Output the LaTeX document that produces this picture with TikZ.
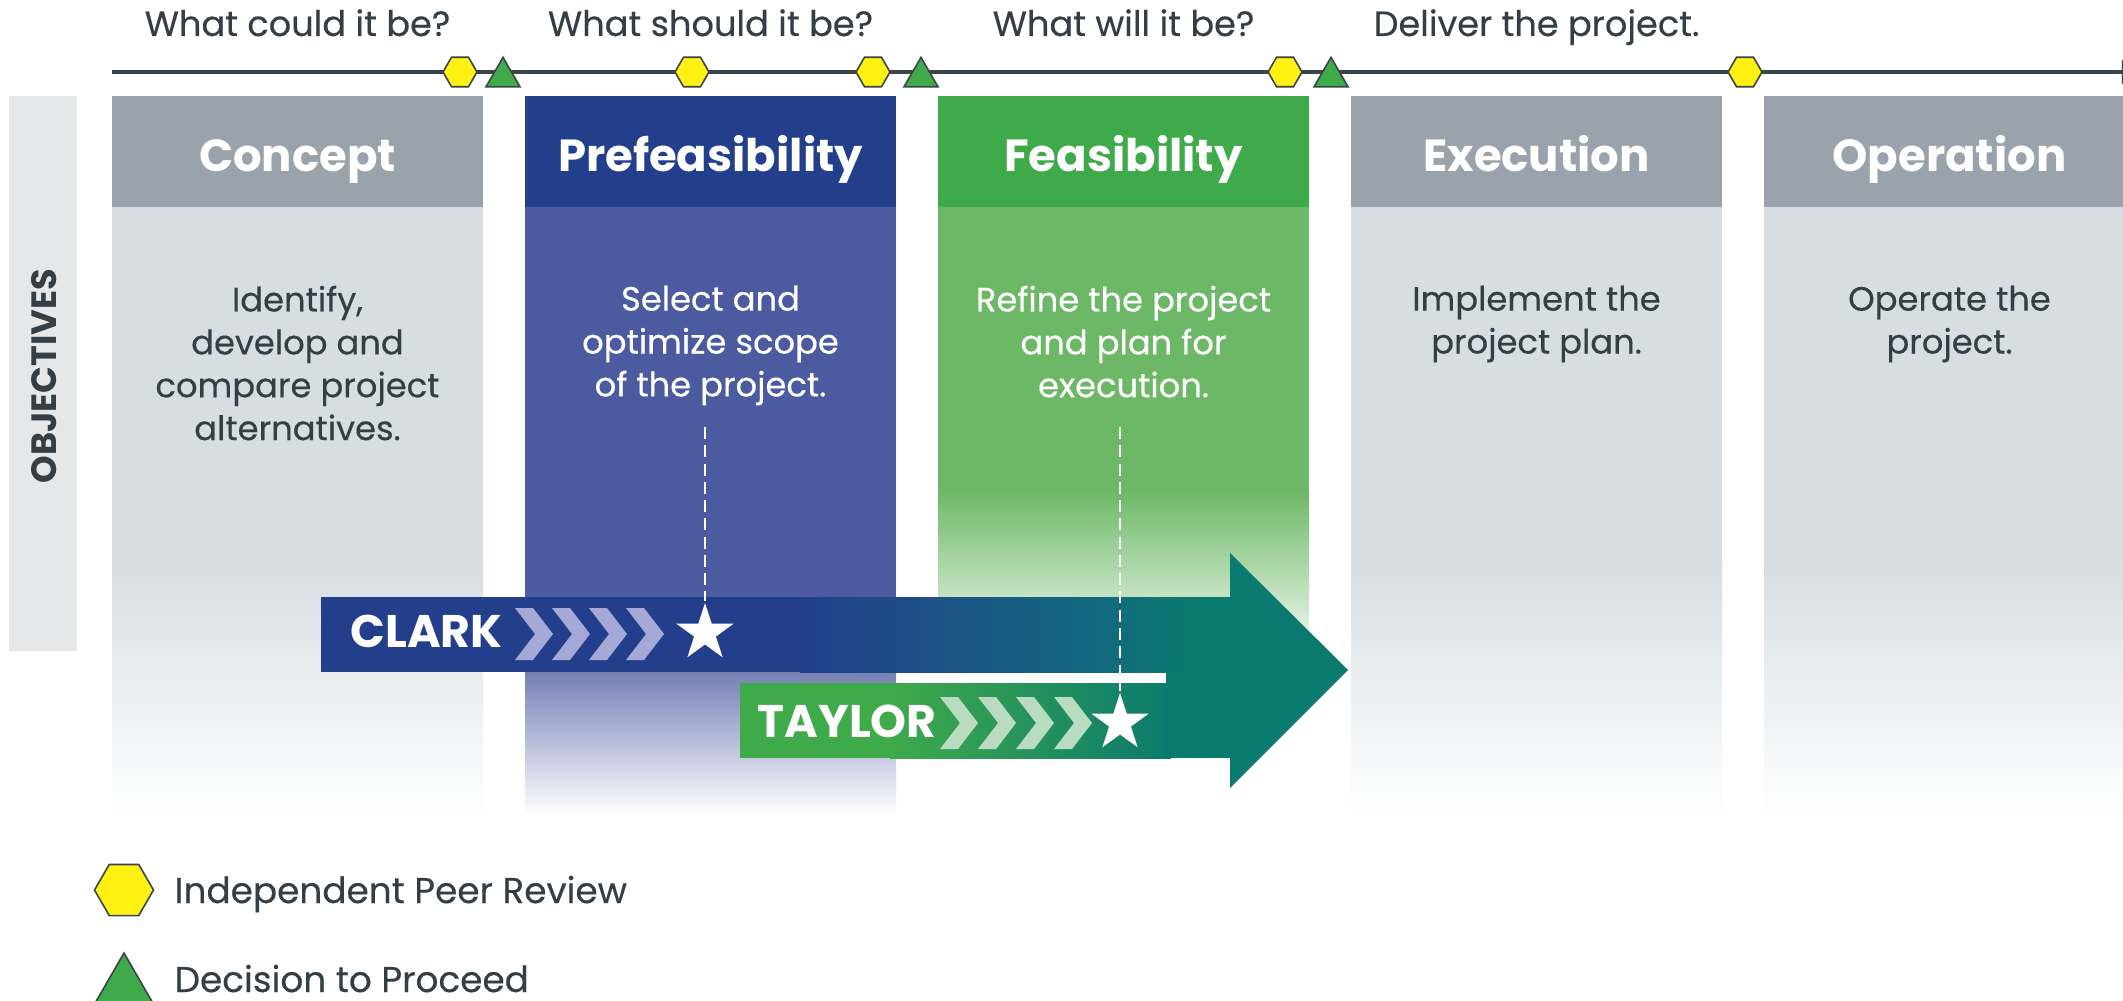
\documentclass[tikz,border=0pt]{standalone}
\usepackage{fontspec}
\setmainfont{Poppins}
\newfontfamily\medf{Poppins}[FakeBold=0.35]
\usetikzlibrary{shapes.geometric,arrows.meta}
\definecolor{hdrgray}{HTML}{9AA3AC}
\definecolor{bodygray}{HTML}{D6DEE2}
\definecolor{pblue}{HTML}{233F8C}
\definecolor{pbody}{HTML}{4C5B9F}
\definecolor{fgreen}{HTML}{3FAA4A}
\definecolor{fbody}{HTML}{6DB866}
\definecolor{objgray}{HTML}{E6E7E8}
\definecolor{ink}{HTML}{343E44}
\definecolor{lineg}{HTML}{3A4449}
\definecolor{hexy}{HTML}{FFF212}
\definecolor{tealc}{HTML}{0B7A6E}
\definecolor{midc}{HTML}{12687F}
\definecolor{chevb}{HTML}{A6A9D8}
\definecolor{chevg}{HTML}{B9DCC0}
\tikzset{
  hdr/.style={text=white, font=\bfseries\fontsize{12.8}{15}\selectfont, anchor=base, inner sep=0},
  objt/.style={text=ink, font=\medf\fontsize{9.6}{12.2}\selectfont, align=center, anchor=north, inner sep=0},
  objw/.style={objt, text=white},
  qst/.style={text=ink, font=\medf\fontsize{10}{12}\selectfont, anchor=base, inner sep=0},
  lgd/.style={text=ink, font=\medf\fontsize{10.2}{12}\selectfont, anchor=base west, inner sep=0},
  hexm/.style={regular polygon, regular polygon sides=6, draw=lineg, line width=0.45pt, fill=hexy, inner sep=0, minimum size=3.4mm},
  trim/.style={regular polygon, regular polygon sides=3, draw=lineg, line width=0.45pt, fill=fgreen, inner sep=0, minimum size=3.93mm},
  starm/.style={star, star points=5, star point ratio=2.618, fill=white, inner sep=0, minimum size=6mm},
  arrlbl/.style={text=white, font=\bfseries\fontsize{13}{15}\selectfont, anchor=base west, inner sep=0},
  dashln/.style={draw=white, line width=0.45pt, dash pattern=on 3.4pt off 1.8pt}
}
\begin{document}
\begin{tikzpicture}[x=0.1mm,y=-0.1mm]
\useasboundingbox (0,0) rectangle (2123,1001);
\clip (0,0) rectangle (2123,1001);
\fill[white] (0,0) rectangle (2123,1001);

% objectives bar
\fill[objgray] (9,96) rectangle (77,651);
\node[rotate=90, text=ink, font=\bfseries\fontsize{10}{12}\selectfont] (objlbl) at (44,376) {OBJECTIVES};

% column bodies
\foreach \xa in {112,1351,1764}{
  \fill[bodygray] (\xa,206) rectangle ++(371,355);
  \shade[top color=bodygray, bottom color=white] (\xa,560) rectangle ++(371,255);
  \fill[hdrgray] (\xa,96) rectangle ++(371,111);
}
\fill[pbody] (525,206) rectangle (896,631);
\shade[top color=pbody, bottom color=white] (525,630) rectangle (896,815);
\fill[pblue] (525,96) rectangle (896,207);
\fill[fbody] (938,206) rectangle (1309,491);
\shade[top color=fbody, bottom color=white] (938,490) rectangle (1309,665);
\fill[fgreen] (938,96) rectangle (1309,207);

% headers
\node[hdr] (h1) at (297.5,172) {Concept};
\node[hdr] (h2) at (710.5,172) {Prefeasibility};
\node[hdr] (h3) at (1123.5,172) {Feasibility};
\node[hdr] (h4) at (1536.5,172) {Execution};
\node[hdr] (h5) at (1949.5,172) {Operation};

% objectives
\node[objt] (o1) at (297.5,285) {Identify,\\develop and\\compare project\\alternatives.};
\node[objw] (o2) at (710.5,285) {Select and\\optimize scope\\of the project.};
\node[objw] (o3) at (1123.5,285) {Refine the project\\and plan for\\execution.};
\node[objt] (o4) at (1536.5,285) {Implement the\\project plan.};
\node[objt] (o5) at (1949.5,285) {Operate the\\project.};

% questions
\node[qst] (q1) at (297.5,36) {What could it be?};
\node[qst] (q2) at (710.5,36) {What should it be?};
\node[qst] (q3) at (1123.5,36) {What will it be?};
\node[qst] (q4) at (1536.5,36) {Deliver the project.};

% timeline
\coordinate (tl0) at (112,72);
\coordinate (tl1) at (2150,72);
\draw[lineg, line width=1.1pt, -{Latex[length=8pt,width=7pt]}] (tl0) -- (tl1);
\node[hexm] (m1) at (460,72) {};
\node[trim] (t1) at (503,77) {};
\node[hexm] (m2) at (692,72) {};
\node[hexm] (m3) at (873,72) {};
\node[trim] (t2) at (921,77) {};
\node[hexm] (m4) at (1285,72) {};
\node[trim] (t3) at (1331,77) {};
\node[hexm] (m5) at (1745,72) {};

% CLARK bar
\fill[pblue] (321,597) rectangle (801,672);
\shade[left color=pblue, right color=midc] (800,597) rectangle (1096,672);
\shade[left color=midc, right color=tealc] (1095,597) rectangle (1193,672);
\fill[tealc] (1192,597) rectangle (1232,672);
% TAYLOR bar
\fill[fgreen] (740,683) rectangle (891,758);
\shade[left color=fgreen, right color=tealc] (890,683) rectangle (1171,758);
\fill[tealc] (1166,671) rectangle (1232,758);
% arrow head
\fill[tealc] (1230,553) -- (1348,670) -- (1230,788) -- cycle;

% chevrons
\foreach \i in {0,1,2,3}{
  \fill[chevb] ({515+37*\i},608) -- ++(18,0) -- ++(20,26) -- ++(-20,26) -- ++(-18,0) -- ++(20,-26) -- cycle;
  \fill[chevg] ({940+38*\i},697) -- ++(18,0) -- ++(20,26) -- ++(-20,26) -- ++(-18,0) -- ++(20,-26) -- cycle;
}

\node[arrlbl] (clark) at (350,647) {CLARK};
\node[arrlbl] (taylor) at (757,737) {TAYLOR};

% stars and dashed lines
\node[starm] (s1) at (705,633) {};
\node[starm] (s2) at (1120,723) {};
\coordinate (d1) at (705,427);
\coordinate (d2) at (1120,427);
\draw[dashln] (d1) -- (s1.north);
\draw[dashln] (d2) -- (s2.north);

% legend
\node[hexm, minimum size=5.9mm] (lhex) at (124,890) {};
\node[lgd] (ltxt1) at (174,903) {Independent Peer Review};
\node[trim, minimum size=6.8mm] (ltri) at (124,987) {};
\node[lgd] (ltxt2) at (174,992) {Decision to Proceed};
\end{tikzpicture}
\end{document}
